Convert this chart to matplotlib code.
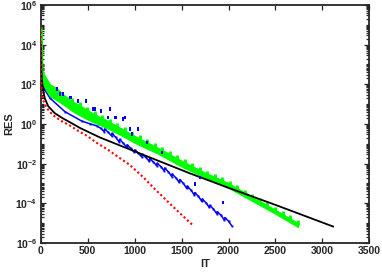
import numpy as np
import matplotlib
matplotlib.use("Agg")
import matplotlib.pyplot as plt
from matplotlib.ticker import LogLocator, FixedLocator, NullFormatter

plt.rcParams['font.family'] = ['Liberation Sans', 'DejaVu Sans']
plt.rcParams['mathtext.fontset'] = 'custom'
plt.rcParams['mathtext.rm'] = 'Liberation Sans:bold'
plt.rcParams['mathtext.default'] = 'rm'

# ---- data (log10 of residual) ----
black_x = [4, 6, 9, 14, 22, 43, 80, 149, 230, 326, 418, 578, 631, 1000, 1589, 2000, 2511, 3113]
black_y = [4.0, 3.2, 2.6, 2.2, 1.85, 1.3, 0.9, 0.55, 0.3, 0.05, -0.2, -0.56, -0.68, -1.38, -2.49, -3.22, -4.1, -5.17]

red_x = [3, 4, 5, 6, 8, 10, 15, 30, 60, 95, 149, 220, 308, 383, 500, 596, 700, 800, 950, 1100, 1198, 1350, 1482, 1623]
red_y = [4.84, 4.3, 3.7, 3.0, 2.4, 1.9, 1.5, 1.15, 0.85, 0.62, 0.38, 0.15, -0.07, -0.30, -0.62, -0.95, -1.25, -1.58, -2.07, -2.72, -3.2, -3.9, -4.5, -5.12]

green_x = [6, 10, 15, 20, 30, 60, 100, 170, 250, 347, 450, 550, 631, 702, 850, 1000, 1250, 1500, 1750, 2000, 2191, 2500, 2741]
green_hi = [4.9, 4.5, 3.6, 2.7, 2.55, 2.3, 2.0, 1.8, 1.45, 1.12, 0.85, 0.55, 0.35, 0.2, -0.2, -0.6, -1.2, -1.85, -2.45, -2.98, -3.5, -4.33, -5.0]
green_lo = [4.3, 3.0, 2.3, 2.05, 1.95, 1.7, 1.4, 1.2, 0.95, 0.62, 0.35, 0.10, -0.05, -0.2, -0.55, -0.95, -1.5, -2.15, -2.72, -3.22, -3.72, -4.53, -5.2]
green_tooth_x = [335, 415, 495, 575, 655, 735, 815, 895, 975, 1055, 1135, 1215, 1295, 1375, 1455, 1535,
                 1615, 1695, 1775, 1855, 1935, 2015, 2095, 2175, 2255, 2335, 2415, 2495, 2575, 2655, 2735]
green_tooth_top = [1.30, 1.09, 0.87, 0.64, 0.45, 0.26, 0.05, -0.17, -0.38, -0.58, -0.77, -0.97, -1.17, -1.37, -1.58, -1.78,
                   -1.98, -2.17, -2.35, -2.52, -2.69, -2.87, -3.09, -3.31, -3.52, -3.74, -3.95, -4.17, -4.39, -4.61, -4.83]

blue_x = [5, 7, 10, 16, 40, 100, 258, 436, 530, 600, 640, 675, 680, 720, 755, 760, 800, 835, 840, 880, 915,
          920, 960, 995, 1000, 1040, 1075, 1080, 1120, 1155, 1160, 1200, 1235, 1240, 1280, 1315, 1320, 1360,
          1395, 1400, 1440, 1475, 1480, 1520, 1555, 1560, 1600, 1635, 1640, 1680, 1715, 1720, 1760, 1795,
          1800, 1840, 1875, 1880, 1920, 1955, 1960, 2000, 2032]
blue_y = [4.8, 3.8, 2.8, 2.2, 1.75, 1.3, 0.62, 0.15, 0.0, -0.10, -0.22, -0.38, -0.25, -0.42, -0.60, -0.47, -0.68,
          -0.90, -0.78, -0.97, -1.17, -1.05, -1.23, -1.42, -1.30, -1.47, -1.66, -1.53, -1.69, -1.88, -1.75,
          -1.91, -2.11, -1.98, -2.15, -2.36, -2.22, -2.41, -2.65, -2.52, -2.72, -2.95, -2.80, -3.00, -3.25,
          -3.13, -3.33, -3.58, -3.46, -3.65, -3.90, -3.78, -3.97, -4.21, -4.10, -4.29, -4.53, -4.42, -4.60,
          -4.84, -4.72, -4.90, -5.12]
blue_out_x = [170, 202, 241, 312, 326, 397, 486, 557, 578, 645, 720, 737, 790, 805, 879, 894, 950, 968,
              1038, 1128, 1287, 1570, 1642, 1695, 1943]
blue_out_y = [1.80, 1.55, 1.55, 1.38, 1.38, 1.21, 1.21, 0.79, 0.79, 0.70, 0.37, 0.79, 0.37, 0.37, 0.29, 0.37,
              -0.22, -0.47, -0.22, -0.89, -1.4, -3.16, -2.99, -2.66, -3.92]

xticks = [0, 500, 1000, 1500, 2000, 2500, 3000, 3500]
yexp = [-6, -4, -2, 0, 2, 4, 6]

p = lambda v: 10.0 ** np.asarray(v, dtype=float)

fig = plt.figure(figsize=(3.82, 2.73), dpi=100)
ax = fig.add_axes([0.1065, 0.110, 0.8605, 0.8717])

ax.set_yscale('log')

# blue
ax.plot(blue_x, p(blue_y), color='#0000ff', lw=1.1, marker='s', ms=1.4, mew=0, zorder=2)
ax.plot(blue_out_x, p(blue_out_y), ls='none', color='#0000ff', marker='s', ms=1.5, mew=0, zorder=5)
ax.plot(blue_out_x, p(np.asarray(blue_out_y) - 0.08), ls='none', color='#0000ff', marker='s', ms=1.5, mew=0, zorder=5)

# green band
ax.fill_between(green_x, p(green_lo), p(green_hi), color='#00ff00', lw=0.8, edgecolor='#00ff00', zorder=3)
ax.vlines(green_tooth_x, p(np.asarray(green_tooth_top) - 0.25), p(green_tooth_top), color='#00ff00', lw=2.0, zorder=3)

# black
ax.plot(black_x, p(black_y), color='black', lw=1.3, zorder=4)

# red dotted (square dots)
ax.plot(red_x, p(red_y), color='#ff0000', lw=1.5, ls=(0, (0.01, 2.2)), dash_capstyle='projecting', zorder=6)

ax.set_xlim(0, 3500)
ax.set_ylim(1e-6, 1e6)
ax.xaxis.set_major_locator(FixedLocator(xticks))
ax.set_xticklabels([str(t) for t in xticks])
ax.yaxis.set_major_locator(FixedLocator([10.0 ** e for e in yexp]))
ax.set_yticklabels([f'$10^{{{e}}}$' for e in yexp])
ax.yaxis.set_minor_locator(LogLocator(base=10, subs=np.arange(1, 10), numticks=100))
ax.yaxis.set_minor_formatter(NullFormatter())

ax.tick_params(which='both', direction='in', top=True, right=True, colors='#262626',
               labelsize=7.5, width=0.9)
ax.tick_params(which='major', length=3.5, pad=2.5)
ax.tick_params(which='minor', length=2)
for lab in ax.get_xticklabels() + ax.get_yticklabels():
    lab.set_fontweight('bold')
for s in ax.spines.values():
    s.set_linewidth(1.3)
    s.set_color('#262626')

ax.set_xlabel('IT', fontsize=8, fontweight='bold', color='#262626', labelpad=2)
ax.set_ylabel('RES', fontsize=8, fontweight='bold', color='#262626', labelpad=1)

fig.savefig('out.png', dpi=100)
